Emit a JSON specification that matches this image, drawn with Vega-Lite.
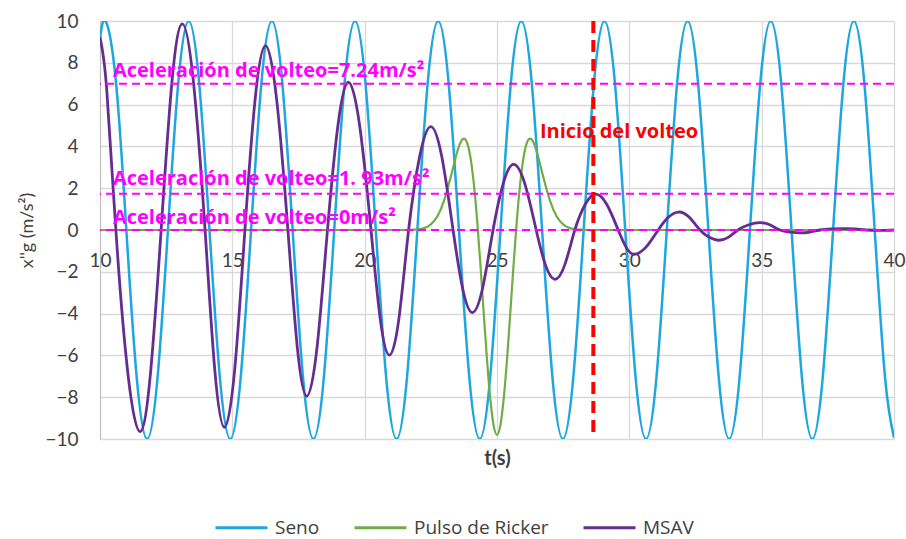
{
  "$schema": "https://vega.github.io/schema/vega-lite/v6.json",
  "width": 794,
  "height": 418,
  "autosize": {"type": "none"},
  "padding": {"left": 100, "top": 21, "right": 12, "bottom": 100},
  "background": "white",
  "config": {
    "view": {"stroke": null},
    "font": "Lato",
    "axis": {
      "labelFont": "Lato", "titleFont": "Lato", "labelColor": "#404040", "titleColor": "#404040",
      "gridColor": "#D9D9D9", "gridWidth": 1.3, "ticks": false, "tickSize": 0, "labelFontSize": 19, "domain": false
    },
    "axisX": {"labelPadding": -179, "labelBaseline": "middle", "labelFlush": false, "titleFontSize": 20, "titleFontWeight": "bold", "titleY": 19, "titleBaseline": "middle"},
    "axisY": {"labelPadding": 22, "titleFontSize": 18, "titleFontWeight": "normal", "titleX": -73, "titleY": 209, "titleBaseline": "middle", "domain": true, "domainColor": "#BFBFBF"}
  },
  "datasets": {
    "series": [
      {"t": 10.0, "v": 9.13, "s": "Seno"},
      {"t": 10.2102, "v": 10, "s": "Seno"},
      {"t": 10.6029, "v": 7.07, "s": "Seno"},
      {"t": 10.9956, "v": 0, "s": "Seno"},
      {"t": 11.3883, "v": -7.07, "s": "Seno"},
      {"t": 11.781, "v": -10, "s": "Seno"},
      {"t": 12.1737, "v": -7.07, "s": "Seno"},
      {"t": 12.5664, "v": 0, "s": "Seno"},
      {"t": 12.9591, "v": 7.07, "s": "Seno"},
      {"t": 13.3518, "v": 10, "s": "Seno"},
      {"t": 13.7445, "v": 7.07, "s": "Seno"},
      {"t": 14.1372, "v": 0, "s": "Seno"},
      {"t": 14.5299, "v": -7.07, "s": "Seno"},
      {"t": 14.9226, "v": -10, "s": "Seno"},
      {"t": 15.3153, "v": -7.07, "s": "Seno"},
      {"t": 15.708, "v": 0, "s": "Seno"},
      {"t": 16.1007, "v": 7.07, "s": "Seno"},
      {"t": 16.4934, "v": 10, "s": "Seno"},
      {"t": 16.8861, "v": 7.07, "s": "Seno"},
      {"t": 17.2788, "v": 0, "s": "Seno"},
      {"t": 17.6715, "v": -7.07, "s": "Seno"},
      {"t": 18.0642, "v": -10, "s": "Seno"},
      {"t": 18.4569, "v": -7.07, "s": "Seno"},
      {"t": 18.8496, "v": 0, "s": "Seno"},
      {"t": 19.2423, "v": 7.07, "s": "Seno"},
      {"t": 19.635, "v": 10, "s": "Seno"},
      {"t": 20.0277, "v": 7.07, "s": "Seno"},
      {"t": 20.4204, "v": 0, "s": "Seno"},
      {"t": 20.8131, "v": -7.07, "s": "Seno"},
      {"t": 21.2058, "v": -10, "s": "Seno"},
      {"t": 21.5985, "v": -7.07, "s": "Seno"},
      {"t": 21.9911, "v": 0, "s": "Seno"},
      {"t": 22.3838, "v": 7.07, "s": "Seno"},
      {"t": 22.7765, "v": 10, "s": "Seno"},
      {"t": 23.1692, "v": 7.07, "s": "Seno"},
      {"t": 23.5619, "v": 0, "s": "Seno"},
      {"t": 23.9546, "v": -7.07, "s": "Seno"},
      {"t": 24.3473, "v": -10, "s": "Seno"},
      {"t": 24.74, "v": -7.07, "s": "Seno"},
      {"t": 25.1327, "v": 0, "s": "Seno"},
      {"t": 25.5254, "v": 7.07, "s": "Seno"},
      {"t": 25.9181, "v": 10, "s": "Seno"},
      {"t": 26.3108, "v": 7.07, "s": "Seno"},
      {"t": 26.7035, "v": 0, "s": "Seno"},
      {"t": 27.0962, "v": -7.07, "s": "Seno"},
      {"t": 27.4889, "v": -10, "s": "Seno"},
      {"t": 27.8816, "v": -7.07, "s": "Seno"},
      {"t": 28.2743, "v": 0, "s": "Seno"},
      {"t": 28.667, "v": 7.07, "s": "Seno"},
      {"t": 29.0597, "v": 10, "s": "Seno"},
      {"t": 29.4524, "v": 7.07, "s": "Seno"},
      {"t": 29.8451, "v": 0, "s": "Seno"},
      {"t": 30.2378, "v": -7.07, "s": "Seno"},
      {"t": 30.6305, "v": -10, "s": "Seno"},
      {"t": 31.0232, "v": -7.07, "s": "Seno"},
      {"t": 31.4159, "v": 0, "s": "Seno"},
      {"t": 31.8086, "v": 7.07, "s": "Seno"},
      {"t": 32.2013, "v": 10, "s": "Seno"},
      {"t": 32.594, "v": 7.07, "s": "Seno"},
      {"t": 32.9867, "v": 0, "s": "Seno"},
      {"t": 33.3794, "v": -7.07, "s": "Seno"},
      {"t": 33.7721, "v": -10, "s": "Seno"},
      {"t": 34.1648, "v": -7.07, "s": "Seno"},
      {"t": 34.5575, "v": 0, "s": "Seno"},
      {"t": 34.9502, "v": 7.07, "s": "Seno"},
      {"t": 35.3429, "v": 10, "s": "Seno"},
      {"t": 35.7356, "v": 7.07, "s": "Seno"},
      {"t": 36.1283, "v": 0, "s": "Seno"},
      {"t": 36.521, "v": -7.07, "s": "Seno"},
      {"t": 36.9137, "v": -10, "s": "Seno"},
      {"t": 37.3064, "v": -7.07, "s": "Seno"},
      {"t": 37.6991, "v": 0, "s": "Seno"},
      {"t": 38.0918, "v": 7.07, "s": "Seno"},
      {"t": 38.4845, "v": 10, "s": "Seno"},
      {"t": 38.8772, "v": 7.07, "s": "Seno"},
      {"t": 39.2699, "v": 0, "s": "Seno"},
      {"t": 39.6626, "v": -7.07, "s": "Seno"},
      {"t": 40.0, "v": -9.94, "s": "Seno"},

      {"t": 10, "v": 0, "s": "Pulso de Ricker"},
      {"t": 20, "v": 0, "s": "Pulso de Ricker"},
      {"t": 21, "v": 0, "s": "Pulso de Ricker"},
      {"t": 21.5, "v": 0, "s": "Pulso de Ricker"},
      {"t": 22, "v": 0.03, "s": "Pulso de Ricker"},
      {"t": 22.25, "v": 0.09, "s": "Pulso de Ricker"},
      {"t": 22.5, "v": 0.27, "s": "Pulso de Ricker"},
      {"t": 22.75, "v": 0.66, "s": "Pulso de Ricker"},
      {"t": 23, "v": 1.41, "s": "Pulso de Ricker"},
      {"t": 23.25, "v": 2.53, "s": "Pulso de Ricker"},
      {"t": 23.5, "v": 3.75, "s": "Pulso de Ricker"},
      {"t": 23.625, "v": 4.2, "s": "Pulso de Ricker"},
      {"t": 23.75, "v": 4.37, "s": "Pulso de Ricker"},
      {"t": 23.875, "v": 4.16, "s": "Pulso de Ricker"},
      {"t": 24, "v": 3.45, "s": "Pulso de Ricker"},
      {"t": 24.125, "v": 2.21, "s": "Pulso de Ricker"},
      {"t": 24.25, "v": 0.46, "s": "Pulso de Ricker"},
      {"t": 24.375, "v": -1.68, "s": "Pulso de Ricker"},
      {"t": 24.5, "v": -4.01, "s": "Pulso de Ricker"},
      {"t": 24.625, "v": -6.25, "s": "Pulso de Ricker"},
      {"t": 24.75, "v": -8.12, "s": "Pulso de Ricker"},
      {"t": 24.875, "v": -9.37, "s": "Pulso de Ricker"},
      {"t": 25, "v": -9.8, "s": "Pulso de Ricker"},
      {"t": 25.125, "v": -9.37, "s": "Pulso de Ricker"},
      {"t": 25.25, "v": -8.12, "s": "Pulso de Ricker"},
      {"t": 25.375, "v": -6.25, "s": "Pulso de Ricker"},
      {"t": 25.5, "v": -4.01, "s": "Pulso de Ricker"},
      {"t": 25.625, "v": -1.68, "s": "Pulso de Ricker"},
      {"t": 25.75, "v": 0.46, "s": "Pulso de Ricker"},
      {"t": 25.875, "v": 2.21, "s": "Pulso de Ricker"},
      {"t": 26, "v": 3.45, "s": "Pulso de Ricker"},
      {"t": 26.125, "v": 4.16, "s": "Pulso de Ricker"},
      {"t": 26.25, "v": 4.37, "s": "Pulso de Ricker"},
      {"t": 26.375, "v": 4.2, "s": "Pulso de Ricker"},
      {"t": 26.5, "v": 3.75, "s": "Pulso de Ricker"},
      {"t": 26.75, "v": 2.53, "s": "Pulso de Ricker"},
      {"t": 27, "v": 1.41, "s": "Pulso de Ricker"},
      {"t": 27.25, "v": 0.66, "s": "Pulso de Ricker"},
      {"t": 27.5, "v": 0.27, "s": "Pulso de Ricker"},
      {"t": 27.75, "v": 0.09, "s": "Pulso de Ricker"},
      {"t": 28, "v": 0.03, "s": "Pulso de Ricker"},
      {"t": 28.5, "v": 0, "s": "Pulso de Ricker"},
      {"t": 29, "v": 0, "s": "Pulso de Ricker"},
      {"t": 40, "v": 0, "s": "Pulso de Ricker"},

      {"t": 10.0, "v": 9.22, "s": "MSAV"},
      {"t": 10.25, "v": 6.8, "s": "MSAV"},
      {"t": 10.6, "v": 0, "s": "MSAV"},
      {"t": 11.05, "v": -6.82, "s": "MSAV"},
      {"t": 11.51, "v": -9.65, "s": "MSAV"},
      {"t": 11.91, "v": -6.82, "s": "MSAV"},
      {"t": 12.31, "v": 0, "s": "MSAV"},
      {"t": 12.71, "v": 6.97, "s": "MSAV"},
      {"t": 13.11, "v": 9.86, "s": "MSAV"},
      {"t": 13.54, "v": 6.97, "s": "MSAV"},
      {"t": 13.97, "v": 0, "s": "MSAV"},
      {"t": 14.335, "v": -6.67, "s": "MSAV"},
      {"t": 14.7, "v": -9.44, "s": "MSAV"},
      {"t": 15.09, "v": -6.67, "s": "MSAV"},
      {"t": 15.475, "v": 0, "s": "MSAV"},
      {"t": 15.86, "v": 6.24, "s": "MSAV"},
      {"t": 16.25, "v": 8.82, "s": "MSAV"},
      {"t": 16.675, "v": 6.24, "s": "MSAV"},
      {"t": 17.1, "v": 0, "s": "MSAV"},
      {"t": 17.455, "v": -5.62, "s": "MSAV"},
      {"t": 17.81, "v": -7.95, "s": "MSAV"},
      {"t": 18.2, "v": -5.62, "s": "MSAV"},
      {"t": 18.595, "v": 0, "s": "MSAV"},
      {"t": 18.99, "v": 5.0, "s": "MSAV"},
      {"t": 19.38, "v": 7.07, "s": "MSAV"},
      {"t": 19.81, "v": 5.0, "s": "MSAV"},
      {"t": 20.24, "v": 0, "s": "MSAV"},
      {"t": 20.585, "v": -4.23, "s": "MSAV"},
      {"t": 20.93, "v": -5.99, "s": "MSAV"},
      {"t": 21.295, "v": -4.23, "s": "MSAV"},
      {"t": 21.66, "v": 0, "s": "MSAV"},
      {"t": 22.075, "v": 3.5, "s": "MSAV"},
      {"t": 22.49, "v": 4.95, "s": "MSAV"},
      {"t": 22.915, "v": 3.5, "s": "MSAV"},
      {"t": 23.34, "v": 0, "s": "MSAV"},
      {"t": 23.7, "v": -2.79, "s": "MSAV"},
      {"t": 24.06, "v": -3.95, "s": "MSAV"},
      {"t": 24.455, "v": -2.79, "s": "MSAV"},
      {"t": 24.85, "v": 0, "s": "MSAV"},
      {"t": 25.235, "v": 2.22, "s": "MSAV"},
      {"t": 25.62, "v": 3.14, "s": "MSAV"},
      {"t": 26.05, "v": 2.22, "s": "MSAV"},
      {"t": 26.48, "v": 0, "s": "MSAV"},
      {"t": 26.83, "v": -1.67, "s": "MSAV"},
      {"t": 27.18, "v": -2.36, "s": "MSAV"},
      {"t": 27.56, "v": -1.67, "s": "MSAV"},
      {"t": 27.94, "v": 0, "s": "MSAV"},
      {"t": 28.33, "v": 1.22, "s": "MSAV"},
      {"t": 28.72, "v": 1.72, "s": "MSAV"},
      {"t": 29.15, "v": 1.22, "s": "MSAV"},
      {"t": 29.58, "v": 0, "s": "MSAV"},
      {"t": 29.875, "v": -0.82, "s": "MSAV"},
      {"t": 30.17, "v": -1.16, "s": "MSAV"},
      {"t": 30.63, "v": -0.82, "s": "MSAV"},
      {"t": 31.09, "v": 0, "s": "MSAV"},
      {"t": 31.475, "v": 0.61, "s": "MSAV"},
      {"t": 31.86, "v": 0.86, "s": "MSAV"},
      {"t": 32.265, "v": 0.61, "s": "MSAV"},
      {"t": 32.67, "v": 0, "s": "MSAV"},
      {"t": 33.02, "v": -0.35, "s": "MSAV"},
      {"t": 33.37, "v": -0.49, "s": "MSAV"},
      {"t": 33.735, "v": -0.35, "s": "MSAV"},
      {"t": 34.1, "v": 0, "s": "MSAV"},
      {"t": 34.515, "v": 0.25, "s": "MSAV"},
      {"t": 34.93, "v": 0.35, "s": "MSAV"},
      {"t": 35.31, "v": 0.25, "s": "MSAV"},
      {"t": 35.69, "v": 0, "s": "MSAV"},
      {"t": 36.07, "v": -0.1, "s": "MSAV"},
      {"t": 36.45, "v": -0.14, "s": "MSAV"},
      {"t": 36.825, "v": -0.1, "s": "MSAV"},
      {"t": 37.2, "v": 0, "s": "MSAV"},
      {"t": 37.64, "v": 0.05, "s": "MSAV"},
      {"t": 38.08, "v": 0.07, "s": "MSAV"},
      {"t": 38.525, "v": 0.05, "s": "MSAV"},
      {"t": 38.97, "v": 0, "s": "MSAV"},
      {"t": 39.5, "v": -0.02, "s": "MSAV"},
      {"t": 40.0, "v": 0, "s": "MSAV"}
    ],
    "thresholds": [{"v": 7.0}, {"v": 1.74}, {"v": 0}],
    "onset": [{"t": 28.64}],
    "thresholdNotes": [
      {"t": 10.49, "v": 7.34, "label": "Aceleración de volteo=7.24m/s²"},
      {"t": 10.49, "v": 2.17, "label": "Aceleración de volteo=1. 93m/s²"},
      {"t": 10.49, "v": 0.31, "label": "Aceleración de volteo=0m/s²"}
    ],
    "onsetNote": [{"t": 26.62, "v": 4.4, "label": "Inicio del volteo"}]
  },
  "layer": [
    {
      "data": {"name": "series"},
      "transform": [{"filter": "datum.s === 'Seno'"}],
      "mark": {"type": "line", "interpolate": "natural", "strokeWidth": 2.5, "clip": true},
      "encoding": {
        "x": {"field": "t", "type": "quantitative", "title": "t(s)", "scale": {"domain": [10, 40], "nice": false, "zero": false}, "axis": {"values": [10, 15, 20, 25, 30, 35, 40]}},
        "y": {"field": "v", "type": "quantitative", "title": "x''g (m/s²)", "scale": {"domain": [-10, 10], "nice": false}, "axis": {"values": [-10, -8, -6, -4, -2, 0, 2, 4, 6, 8, 10]}},
        "color": {"field": "s", "type": "nominal", "scale": {"domain": ["Seno", "Pulso de Ricker", "MSAV"], "range": ["#1EA6E0", "#70AD47", "#652D90"]},
          "legend": {"orient": "none", "legendX": 114, "legendY": 479, "direction": "horizontal", "title": null, "symbolType": "stroke", "symbolSize": 2704, "symbolStrokeWidth": 3, "labelFontSize": 19, "labelFont": "Open Sans", "labelColor": "#404040", "columnPadding": 28, "labelOffset": 6}}
      }
    },
    {
      "data": {"name": "series"},
      "transform": [{"filter": "datum.s === 'Pulso de Ricker'"}],
      "mark": {"type": "line", "interpolate": "monotone", "strokeWidth": 2.2, "clip": true},
      "encoding": {
        "x": {"field": "t", "type": "quantitative", "title": "t(s)", "scale": {"domain": [10, 40], "nice": false, "zero": false}},
        "y": {"field": "v", "type": "quantitative", "title": "x''g (m/s²)", "scale": {"domain": [-10, 10], "nice": false}},
        "color": {"field": "s", "type": "nominal", "scale": {"domain": ["Seno", "Pulso de Ricker", "MSAV"], "range": ["#1EA6E0", "#70AD47", "#652D90"]}}
      }
    },
    {
      "data": {"name": "series"},
      "transform": [{"filter": "datum.s === 'MSAV'"}],
      "mark": {"type": "line", "interpolate": "natural", "strokeWidth": 2.8, "clip": true},
      "encoding": {
        "x": {"field": "t", "type": "quantitative", "title": "t(s)", "scale": {"domain": [10, 40], "nice": false, "zero": false}},
        "y": {"field": "v", "type": "quantitative", "title": "x''g (m/s²)", "scale": {"domain": [-10, 10], "nice": false}},
        "color": {"field": "s", "type": "nominal", "scale": {"domain": ["Seno", "Pulso de Ricker", "MSAV"], "range": ["#1EA6E0", "#70AD47", "#652D90"]}}
      }
    },
    {
      "data": {"name": "thresholds"},
      "mark": {"type": "rule", "color": "#FF00FF", "strokeWidth": 2, "strokeDash": [8, 5]},
      "encoding": {
        "y": {"field": "v", "type": "quantitative", "title": "x''g (m/s²)", "scale": {"domain": [-10, 10], "nice": false}}
      }
    },
    {
      "data": {"name": "onset"},
      "mark": {"type": "rule", "color": "#FF0000", "strokeWidth": 4, "strokeDash": [12, 7]},
      "encoding": {
        "x": {"field": "t", "type": "quantitative", "title": "t(s)", "scale": {"domain": [10, 40], "nice": false, "zero": false}}
      }
    },
    {
      "data": {"name": "thresholdNotes"},
      "mark": {"type": "text", "align": "left", "baseline": "alphabetic", "font": "Open Sans", "fontWeight": "bold", "fontSize": 20, "color": "#FF00FF"},
      "encoding": {
        "x": {"field": "t", "type": "quantitative", "title": "t(s)", "scale": {"domain": [10, 40], "nice": false, "zero": false}},
        "y": {"field": "v", "type": "quantitative", "title": "x''g (m/s²)", "scale": {"domain": [-10, 10], "nice": false}},
        "text": {"field": "label"}
      }
    },
    {
      "data": {"name": "onsetNote"},
      "mark": {"type": "text", "align": "left", "baseline": "alphabetic", "font": "Open Sans", "fontWeight": "bold", "fontSize": 20, "color": "#FF0000"},
      "encoding": {
        "x": {"field": "t", "type": "quantitative", "title": "t(s)", "scale": {"domain": [10, 40], "nice": false, "zero": false}},
        "y": {"field": "v", "type": "quantitative", "title": "x''g (m/s²)", "scale": {"domain": [-10, 10], "nice": false}},
        "text": {"field": "label"}
      }
    }
  ]
}
